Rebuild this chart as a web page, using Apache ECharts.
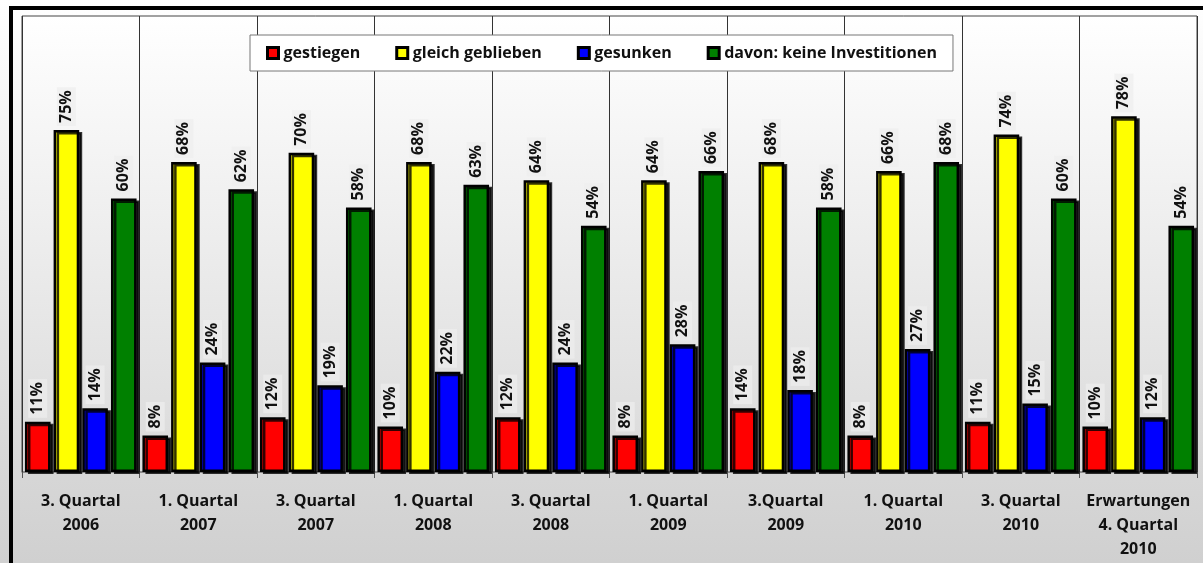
<!DOCTYPE html>
<html>
<head>
<meta charset="utf-8">
<script src="https://cdn.jsdelivr.net/npm/echarts@6/dist/echarts.min.js"></script>
<style>
  html, body { margin: 0; padding: 0; }
  #chart { width: 1203px; height: 563px; }
</style>
</head>
<body>
<div id="chart"></div>
<script>
const categories = [
  '3. Quartal\n2006', '1. Quartal\n2007', '3. Quartal\n2007', '1. Quartal\n2008',
  '3. Quartal\n2008', '1. Quartal\n2009', '3.Quartal\n2009', '1. Quartal\n2010',
  '3. Quartal\n2010', 'Erwartungen\n4. Quartal\n2010'
];
const gestiegen = [11, 8, 12, 10, 12, 8, 14, 8, 11, 10];
const gleichGeblieben = [75, 68, 70, 68, 64, 64, 68, 66, 74, 78];
const gesunken = [14, 24, 19, 22, 24, 28, 18, 27, 15, 12];
const keineInvestitionen = [60, 62, 58, 63, 54, 66, 58, 68, 60, 54];

const seriesDefs = [
  { name: 'gestiegen', data: gestiegen, color: '#ff0000' },
  { name: 'gleich geblieben', data: gleichGeblieben, color: '#ffff00' },
  { name: 'gesunken', data: gesunken, color: '#0000ff' },
  { name: 'davon: keine Investitionen', data: keineInvestitionen, color: '#008000' }
];

const fontFamily = '"Open Sans", Lato, sans-serif';

const myChart = echarts.init(document.getElementById('chart'));

let option = {
  animation: false,
  backgroundColor: {
    type: 'linear', x: 0, y: 0, x2: 0, y2: 1,
    colorStops: [
      { offset: 0, color: '#ffffff' },
      { offset: 0.8, color: '#d8d8d8' },
      { offset: 1, color: '#d0d0d0' }
    ]
  },
  graphic: [{
    type: 'rect',
    z: 100,
    shape: { x: 11, y: 8, width: 1300, height: 700 },
    style: { fill: 'none', stroke: '#000', lineWidth: 4 }
  }],
  legend: {
    left: 250,
    top: 35,
    padding: [10, 16],
    itemGap: 35,
    itemWidth: 11,
    itemHeight: 11,
    backgroundColor: '#ffffff',
    borderColor: '#777',
    borderWidth: 1,
    icon: 'rect',
    itemStyle: { borderColor: '#000', borderWidth: 3, shadowBlur: 0, shadowOffsetX: 0, shadowOffsetY: 0 },
    textStyle: { fontFamily: fontFamily, fontWeight: 'bold', fontSize: 16, color: '#111', padding: [0, 0, 0, 0] }
  },
  grid: {
    left: 22,
    right: 6,
    top: 16,
    bottom: 91,
    show: true,
    borderColor: '#444',
    borderWidth: 1,
    backgroundColor: {
      type: 'linear', x: 0, y: 0, x2: 0, y2: 1,
      colorStops: [
        { offset: 0, color: '#ffffff' },
        { offset: 1, color: '#dadada' }
      ]
    }
  },
  xAxis: {
    type: 'category',
    data: categories,
    axisLine: { show: true, lineStyle: { color: '#888', width: 1 } },
    axisTick: { show: true, length: 6, lineStyle: { color: '#555' } },
    splitLine: { show: true, lineStyle: { color: '#333', width: 1 } },
    axisLabel: {
      interval: 0,
      margin: 17,
      verticalAlign: 'top',
      lineHeight: 24,
      fontFamily: fontFamily,
      fontWeight: 'bold',
      fontSize: 16,
      color: '#111'
    }
  },
  yAxis: {
    type: 'value',
    min: 0,
    max: 100,
    show: false,
    splitLine: { show: false }
  },
  series: seriesDefs.map((s) => ({
    name: s.name,
    type: 'bar',
    data: s.data,
    barGap: '12%',
    barCategoryGap: '5%',
    itemStyle: {
      color: s.color,
      borderColor: '#000',
      borderWidth: 2.5,
      shadowColor: 'rgba(0,0,0,0.8)',
      shadowBlur: 0,
      shadowOffsetX: 3,
      shadowOffsetY: 2
    },
    label: {
      show: true,
      position: 'top',
      rotate: 90,
      align: 'left',
      verticalAlign: 'middle',
      distance: 4,
      formatter: '{c}%',
      fontFamily: fontFamily,
      fontWeight: 'bold',
      fontSize: 16,
      color: '#111',
      backgroundColor: 'rgba(238,238,238,0.7)',
      padding: [2, 3, 1, 3]
    }
  }))
};

myChart.setOption(option);
</script>
</body>
</html>
